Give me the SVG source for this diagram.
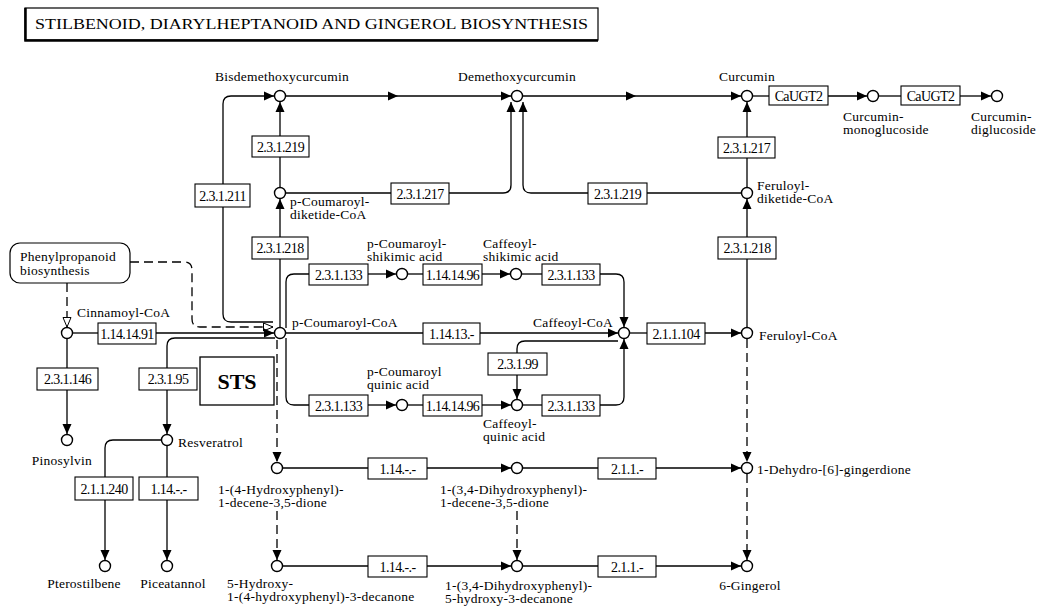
<svg xmlns="http://www.w3.org/2000/svg" width="1043" height="612" viewBox="0 0 1043 612">
<style>
text{font-family:"Liberation Serif","Times New Roman",serif;fill:#000}
.lb{font-size:13.5px;letter-spacing:0.25px}
.ec{font-size:14px;text-anchor:middle;letter-spacing:-0.6px}
.n{fill:#fff;stroke:#000;stroke-width:1.4}
.e{fill:#fff;stroke:#000;stroke-width:1.1}
.c{fill:none;stroke:#000;stroke-width:1.3}
.a{marker-end:url(#ar)}
.m{marker-mid:url(#ar);marker-end:url(#ar)}
.d{stroke-dasharray:9,5}
.o{marker-end:url(#oa)}
</style>
<defs>
<marker id="ar" markerUnits="userSpaceOnUse" markerWidth="11" markerHeight="10" refX="10" refY="4.5" orient="auto" overflow="visible"><path d="M0,0 L10,4.5 L0,9 z" fill="#000"/></marker>
<marker id="oa" markerUnits="userSpaceOnUse" markerWidth="11" markerHeight="10" refX="10" refY="4.5" orient="auto" overflow="visible"><path d="M0.5,0.5 L10,4.5 L0.5,8.5 z" fill="#fff" stroke="#000" stroke-width="1"/></marker>
</defs>
<rect width="1043" height="612" fill="#fff"/>
<g id="title">
<rect x="25" y="8" width="573" height="32" fill="#fff" stroke="#000" stroke-width="1.2"/>
<path d="M25.5 8 L25.5 40.5 L598 40.5" fill="none" stroke="#000" stroke-width="2.5"/>
<text x="35" y="29" font-size="14.5" textLength="553" lengthAdjust="spacingAndGlyphs">STILBENOID, DIARYLHEPTANOID AND GINGEROL BIOSYNTHESIS</text>
</g>
<g id="connectors">
<path class="c m" d="M286 96 L398 96 L511 96"/>
<path class="c m" d="M523 96 L636 96 L741 96"/>
<path class="c" d="M753 96 L769 96"/>
<path class="c a" d="M828 96 L867 96"/>
<path class="c" d="M879 96 L901 96"/>
<path class="c a" d="M960 96 L991 96"/>
<path class="c a" d="M273 322 L231 322 Q223 322 223 314 L223 104 Q223 96 231 96 L274 96"/>
<path class="c d o" d="M130 262 L184 262 Q192 262 192 270 L192 319 Q192 327 200 327 L273 327"/>
<path class="c d o" d="M67 283 L67 327"/>
<path class="c" d="M73 333 L98 333"/>
<path class="c a" d="M156 333 L274 333"/>
<path class="c" d="M67 339 L67 368"/>
<path class="c a" d="M67 390 L67 434"/>
<path class="c" d="M275 338 L175 338 Q167 338 167 346 L167 368"/>
<path class="c a" d="M167 390 L167 434"/>
<path class="c" d="M161 440 L113 440 Q105 440 105 448 L105 477"/>
<path class="c a" d="M105 500 L105 560"/>
<path class="c" d="M167 446 L167 477"/>
<path class="c a" d="M167 500 L167 560"/>
<path class="c" d="M280 327 L280 259"/>
<path class="c a" d="M280 237 L280 199"/>
<path class="c" d="M280 187 L280 157"/>
<path class="c a" d="M280 136 L280 102"/>
<path class="c" d="M286 193 L391 193"/>
<path class="c a" d="M449 193 L503 193 Q511 193 511 185 L511 102"/>
<path class="c" d="M741 193 L647 193"/>
<path class="c a" d="M588 193 L531 193 Q523 193 523 185 L523 102"/>
<path class="c" d="M747 187 L747 158"/>
<path class="c a" d="M747 137 L747 102"/>
<path class="c" d="M747 327 L747 259"/>
<path class="c a" d="M747 237 L747 199"/>
<path class="c" d="M286 328 L286 282 Q286 274 294 274 L309 274"/>
<path class="c a" d="M368 274 L396 274"/>
<path class="c" d="M408 274 L423 274"/>
<path class="c a" d="M482 274 L510 274"/>
<path class="c" d="M522 274 L542 274"/>
<path class="c a" d="M600 274 L616 274 Q624 274 624 282 L624 327"/>
<path class="c" d="M286 333 L423 333"/>
<path class="c a" d="M480 333 L618 333"/>
<path class="c" d="M286 338 L286 397 Q286 405 294 405 L309 405"/>
<path class="c a" d="M368 405 L396 405"/>
<path class="c" d="M408 405 L423 405"/>
<path class="c a" d="M482 405 L511 405"/>
<path class="c" d="M523 405 L542 405"/>
<path class="c a" d="M600 405 L616 405 Q624 405 624 397 L624 339"/>
<path class="c" d="M618 341 L525 341 Q517 341 517 349 L517 353"/>
<path class="c a" d="M517 375 L517 399"/>
<path class="c" d="M630 333 L647 333"/>
<path class="c a" d="M705 333 L741 333"/>
<path class="c d a" d="M277 340 L277 462"/>
<path class="c d a" d="M277 511 L277 560"/>
<path class="c d a" d="M517 511 L517 560"/>
<path class="c d a" d="M747 339 L747 462"/>
<path class="c d a" d="M747 474 L747 560"/>
<path class="c" d="M283 468 L368 468"/>
<path class="c a" d="M427 468 L511 468"/>
<path class="c" d="M523 468 L598 468"/>
<path class="c a" d="M656 468 L741 468"/>
<path class="c" d="M283 566 L368 566"/>
<path class="c a" d="M427 566 L511 566"/>
<path class="c" d="M523 566 L598 566"/>
<path class="c a" d="M656 566 L741 566"/>
</g>
<g id="phenylpropanoid"><rect x="10" y="243" width="120" height="40" rx="10" fill="#fff" stroke="#000" stroke-width="1.2"/><text class="lb" x="20" y="261">Phenylpropanoid</text><text class="lb" x="20" y="275">biosynthesis</text></g>
<g id="sts"><rect x="200" y="357" width="74" height="48" fill="#fff" stroke="#000" stroke-width="1.3"/><text x="237" y="389" font-size="22" font-weight="bold" text-anchor="middle">STS</text></g>
<g id="bisdemethoxycurcumin"><circle class="n" cx="280" cy="96" r="5.5"/><text class="lb" x="282" y="81" text-anchor="middle">Bisdemethoxycurcumin</text></g>
<g id="demethoxycurcumin"><circle class="n" cx="517" cy="96" r="5.5"/><text class="lb" x="517" y="81" text-anchor="middle">Demethoxycurcumin</text></g>
<g id="curcumin"><circle class="n" cx="747" cy="96" r="5.5"/><text class="lb" x="747" y="81" text-anchor="middle">Curcumin</text></g>
<g id="curcumin-monoglucoside"><circle class="n" cx="873" cy="96" r="5.5"/><text class="lb" x="843" y="121">Curcumin-</text><text class="lb" x="843" y="133.5">monoglucoside</text></g>
<g id="curcumin-diglucoside"><circle class="n" cx="997" cy="96" r="5.5"/><text class="lb" x="971" y="121">Curcumin-</text><text class="lb" x="971" y="133.5">diglucoside</text></g>
<g id="p-coumaroyl-diketide-coa"><circle class="n" cx="280" cy="193" r="5.5"/><text class="lb" x="290" y="206">p-Coumaroyl-</text><text class="lb" x="290" y="218.5">diketide-CoA</text></g>
<g id="feruloyl-diketide-coa"><circle class="n" cx="747" cy="193" r="5.5"/><text class="lb" x="757" y="190">Feruloyl-</text><text class="lb" x="757" y="202.5">diketide-CoA</text></g>
<g id="cinnamoyl-coa"><circle class="n" cx="67" cy="333" r="5.5"/><text class="lb" x="77" y="317">Cinnamoyl-CoA</text></g>
<g id="p-coumaroyl-coa"><circle class="n" cx="280" cy="333" r="5.5"/><text class="lb" x="292" y="327">p-Coumaroyl-CoA</text></g>
<g id="p-coumaroyl-shikimic-acid"><circle class="n" cx="402" cy="274" r="5.5"/><text class="lb" x="367" y="248">p-Coumaroyl-</text><text class="lb" x="367" y="260.5">shikimic acid</text></g>
<g id="caffeoyl-shikimic-acid"><circle class="n" cx="516" cy="274" r="5.5"/><text class="lb" x="483" y="248">Caffeoyl-</text><text class="lb" x="483" y="260.5">shikimic acid</text></g>
<g id="caffeoyl-coa"><circle class="n" cx="624" cy="333" r="5.5"/><text class="lb" x="613" y="327" text-anchor="end">Caffeoyl-CoA</text></g>
<g id="feruloyl-coa"><circle class="n" cx="747" cy="333" r="5.5"/><text class="lb" x="759" y="340">Feruloyl-CoA</text></g>
<g id="p-coumaroyl-quinic-acid"><circle class="n" cx="402" cy="405" r="5.5"/><text class="lb" x="367" y="376">p-Coumaroyl</text><text class="lb" x="367" y="388.5">quinic acid</text></g>
<g id="caffeoyl-quinic-acid"><circle class="n" cx="517" cy="405" r="5.5"/><text class="lb" x="483" y="428">Caffeoyl-</text><text class="lb" x="483" y="440.5">quinic acid</text></g>
<g id="pinosylvin"><circle class="n" cx="67" cy="440" r="5.5"/><text class="lb" x="62" y="465" text-anchor="middle">Pinosylvin</text></g>
<g id="resveratrol"><circle class="n" cx="167" cy="440" r="5.5"/><text class="lb" x="178" y="447">Resveratrol</text></g>
<g id="pterostilbene"><circle class="n" cx="105" cy="566" r="5.5"/><text class="lb" x="84" y="588" text-anchor="middle">Pterostilbene</text></g>
<g id="piceatannol"><circle class="n" cx="167" cy="566" r="5.5"/><text class="lb" x="173" y="588" text-anchor="middle">Piceatannol</text></g>
<g id="hydroxyphenyl-decenedione"><circle class="n" cx="277" cy="468" r="5.5"/><text class="lb" x="218" y="494">1-(4-Hydroxyphenyl)-</text><text class="lb" x="218" y="506.5">1-decene-3,5-dione</text></g>
<g id="dihydroxyphenyl-decenedione"><circle class="n" cx="517" cy="468" r="5.5"/><text class="lb" x="440" y="494">1-(3,4-Dihydroxyphenyl)-</text><text class="lb" x="440" y="506.5">1-decene-3,5-dione</text></g>
<g id="dehydro-gingerdione"><circle class="n" cx="747" cy="468" r="5.5"/><text class="lb" x="757" y="474">1-Dehydro-[6]-gingerdione</text></g>
<g id="hydroxy-hydroxyphenyl-decanone"><circle class="n" cx="277" cy="566" r="5.5"/><text class="lb" x="227" y="588">5-Hydroxy-</text><text class="lb" x="227" y="601">1-(4-hydroxyphenyl)-3-decanone</text></g>
<g id="dihydroxyphenyl-hydroxy-decanone"><circle class="n" cx="517" cy="566" r="5.5"/><text class="lb" x="445" y="590">1-(3,4-Dihydroxyphenyl)-</text><text class="lb" x="445" y="603">5-hydroxy-3-decanone</text></g>
<g id="gingerol"><circle class="n" cx="747" cy="566" r="5.5"/><text class="lb" x="750" y="590" text-anchor="middle">6-Gingerol</text></g>
<g id="ec-2.3.1.219-a"><rect class="e" x="252" y="136" width="57" height="21"/><text class="ec" x="280.5" y="151.5">2.3.1.219</text></g>
<g id="ec-2.3.1.211"><rect class="e" x="195" y="184" width="55" height="23"/><text class="ec" x="222.5" y="200.5">2.3.1.211</text></g>
<g id="ec-2.3.1.217-a"><rect class="e" x="391" y="183" width="58" height="21"/><text class="ec" x="420" y="198.5">2.3.1.217</text></g>
<g id="ec-2.3.1.219-b"><rect class="e" x="588" y="183" width="59" height="21"/><text class="ec" x="617.5" y="198.5">2.3.1.219</text></g>
<g id="ec-2.3.1.217-b"><rect class="e" x="718" y="137" width="57" height="21"/><text class="ec" x="746.5" y="152.5">2.3.1.217</text></g>
<g id="ec-caugt2-a"><rect class="e" x="769" y="86" width="59" height="19"/><text class="ec" x="798.5" y="100.5">CaUGT2</text></g>
<g id="ec-caugt2-b"><rect class="e" x="901" y="86" width="59" height="19"/><text class="ec" x="930.5" y="100.5">CaUGT2</text></g>
<g id="ec-2.3.1.218-a"><rect class="e" x="252" y="237" width="56" height="22"/><text class="ec" x="280" y="253">2.3.1.218</text></g>
<g id="ec-2.3.1.218-b"><rect class="e" x="718" y="237" width="58" height="22"/><text class="ec" x="747" y="253">2.3.1.218</text></g>
<g id="ec-2.3.1.133-a"><rect class="e" x="309" y="264" width="59" height="21"/><text class="ec" x="338.5" y="279.5">2.3.1.133</text></g>
<g id="ec-1.14.14.96-a"><rect class="e" x="423" y="264" width="59" height="21"/><text class="ec" x="452.5" y="279.5">1.14.14.96</text></g>
<g id="ec-2.3.1.133-b"><rect class="e" x="542" y="264" width="58" height="21"/><text class="ec" x="571" y="279.5">2.3.1.133</text></g>
<g id="ec-1.14.14.91"><rect class="e" x="98" y="323" width="58" height="21"/><text class="ec" x="127" y="338.5">1.14.14.91</text></g>
<g id="ec-1.14.13.-"><rect class="e" x="423" y="323" width="57" height="21"/><text class="ec" x="451.5" y="338.5">1.14.13.-</text></g>
<g id="ec-2.1.1.104"><rect class="e" x="647" y="323" width="58" height="21"/><text class="ec" x="676" y="338.5">2.1.1.104</text></g>
<g id="ec-2.3.1.99"><rect class="e" x="488" y="353" width="59" height="22"/><text class="ec" x="517.5" y="369">2.3.1.99</text></g>
<g id="ec-2.3.1.133-c"><rect class="e" x="309" y="395" width="59" height="21"/><text class="ec" x="338.5" y="410.5">2.3.1.133</text></g>
<g id="ec-1.14.14.96-b"><rect class="e" x="423" y="395" width="59" height="21"/><text class="ec" x="452.5" y="410.5">1.14.14.96</text></g>
<g id="ec-2.3.1.133-d"><rect class="e" x="542" y="395" width="58" height="21"/><text class="ec" x="571" y="410.5">2.3.1.133</text></g>
<g id="ec-2.3.1.146"><rect class="e" x="37" y="368" width="61" height="22"/><text class="ec" x="67.5" y="384">2.3.1.146</text></g>
<g id="ec-2.3.1.95"><rect class="e" x="139" y="368" width="58" height="22"/><text class="ec" x="168" y="384">2.3.1.95</text></g>
<g id="ec-2.1.1.240"><rect class="e" x="75" y="477" width="58" height="23"/><text class="ec" x="104" y="493.5">2.1.1.240</text></g>
<g id="ec-1.14.-.-a"><rect class="e" x="139" y="477" width="59" height="23"/><text class="ec" x="168.5" y="493.5">1.14.-.-</text></g>
<g id="ec-1.14.-.-b"><rect class="e" x="368" y="458" width="59" height="21"/><text class="ec" x="397.5" y="473.5">1.14.-.-</text></g>
<g id="ec-2.1.1.-a"><rect class="e" x="598" y="458" width="58" height="21"/><text class="ec" x="627" y="473.5">2.1.1.-</text></g>
<g id="ec-1.14.-.-c"><rect class="e" x="368" y="556" width="59" height="21"/><text class="ec" x="397.5" y="571.5">1.14.-.-</text></g>
<g id="ec-2.1.1.-b"><rect class="e" x="598" y="556" width="58" height="21"/><text class="ec" x="627" y="571.5">2.1.1.-</text></g>
</svg>
